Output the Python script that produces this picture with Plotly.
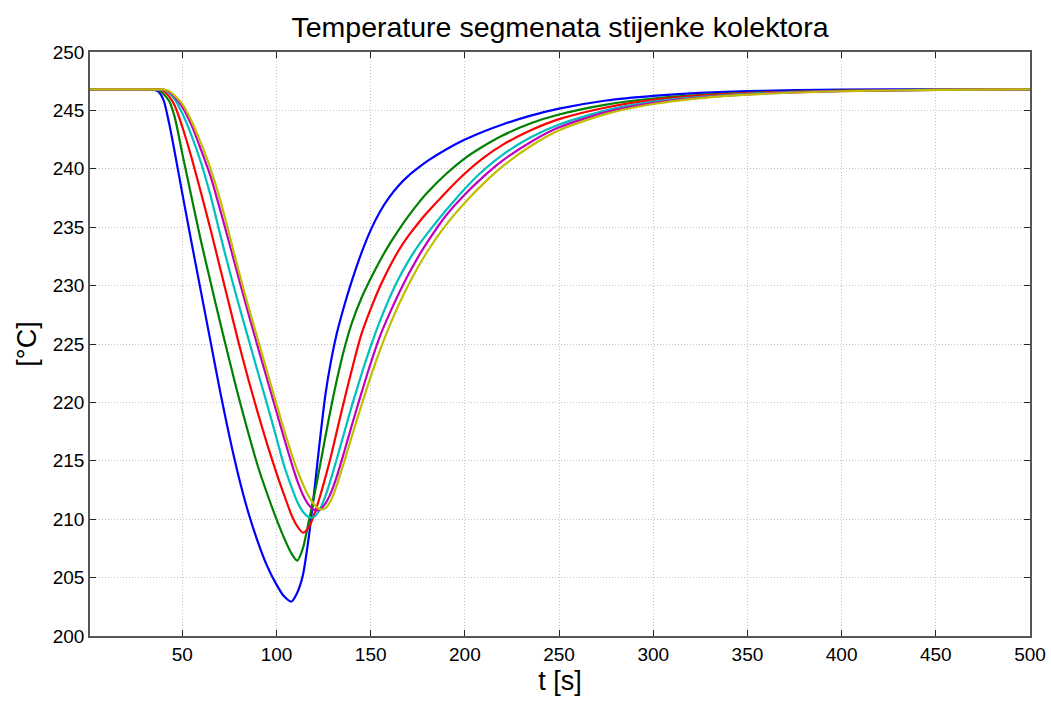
import plotly.graph_objects as go

# time grid [s]
t = [1, 30, 34, 37, 40, 43, 46, 50, 55, 60, 65, 70, 75, 80, 85, 90, 95, 100, 104, 108,
     111, 114, 117, 120, 123, 126, 129, 132, 136, 140, 145, 150, 155, 160, 165, 170, 175,
     180, 190, 200, 210, 220, 235, 250, 275, 300, 325, 350, 400, 450, 500]

seg1 = [246.8, 246.8, 246.8, 246.65, 245.9, 243.9, 241.4, 237.9, 233.6, 229.4, 225.2, 221.0,
        217.1, 213.6, 210.6, 208.1, 206.0, 204.4, 203.4, 202.95,
        203.7, 205.2, 208.3, 212.3, 216.7, 220.7, 223.6, 225.9, 228.3, 230.4, 232.75, 234.75,
        236.35, 237.6, 238.6, 239.4, 240.05,
        240.65, 241.65, 242.5, 243.2, 243.8, 244.55, 245.15, 245.85, 246.25, 246.5, 246.65,
        246.78, 246.8, 246.8]

seg2 = [246.8, 246.8, 246.8, 246.75, 246.4, 245.8, 244.4, 241.3, 237.5, 233.75, 230.3, 226.9,
        223.6, 220.4, 217.4, 214.6, 212.2, 210.0, 208.4, 207.05,
        206.45, 207.5, 209.7, 212.0, 214.5, 217.1, 219.6, 221.9, 224.6, 226.8, 228.9, 230.6,
        232.15, 233.55, 234.8, 235.95, 237.0,
        237.95, 239.55, 240.9, 241.95, 242.85, 243.9, 244.65, 245.5, 246.02, 246.33, 246.51,
        246.7, 246.77, 246.8]

seg3 = [246.8, 246.8, 246.8, 246.8, 246.65, 246.2, 245.4, 243.6, 240.9, 237.9, 234.8, 231.55,
        228.3, 225.05, 222.0, 219.15, 216.45, 213.95, 212.1, 210.35,
        209.4, 208.85, 209.25, 210.4, 211.9, 213.6, 215.45, 217.5, 220.2, 222.8, 225.8, 228.0,
        229.95, 231.6, 233.05, 234.25, 235.3,
        236.25, 238.0, 239.6, 240.95, 242.05, 243.3, 244.25, 245.25, 245.9, 246.26, 246.48,
        246.68, 246.76, 246.8]

seg4 = [246.8, 246.8, 246.8, 246.8, 246.75, 246.5, 245.95, 244.75, 242.8, 240.5, 237.7, 234.45,
        231.3, 228.35, 225.5, 222.65, 219.85, 216.95, 214.6, 212.75,
        211.5, 210.65, 210.2, 210.2, 210.85, 212.0, 213.5, 215.15, 217.45, 219.7, 222.35, 224.8,
        227.0, 228.95, 230.65, 232.1, 233.35,
        234.45, 236.45, 238.3, 239.9, 241.2, 242.7, 243.8, 245.0, 245.75, 246.15, 246.42,
        246.66, 246.75, 246.8]

seg5 = [246.8, 246.8, 246.8, 246.8, 246.78, 246.6, 246.15, 245.3, 243.7, 241.6, 239.35, 236.55,
        233.6, 230.6, 227.65, 224.8, 222.0, 219.2, 216.95, 214.8,
        213.3, 212.1, 211.25, 210.8, 210.8, 211.35, 212.3, 213.65, 215.8, 218.05, 220.75, 223.35,
        225.7, 227.6, 229.35, 230.95, 232.4,
        233.7, 236.0, 237.8, 239.35, 240.7, 242.3, 243.55, 244.85, 245.65, 246.1, 246.38,
        246.65, 246.75, 246.8]

seg6 = [246.8, 246.8, 246.8, 246.8, 246.8, 246.65, 246.25, 245.55, 244.05, 242.15, 240.0, 237.4,
        234.35, 231.2, 228.25, 225.45, 222.65, 219.85, 217.65, 215.6,
        214.2, 213.0, 212.0, 211.25, 210.85, 210.95, 211.65, 212.9, 214.95, 217.1, 219.7, 222.2,
        224.5, 226.55, 228.4, 230.05, 231.55,
        232.9, 235.2, 237.1, 238.75, 240.2, 241.95, 243.3, 244.7, 245.55, 246.05, 246.35,
        246.64, 246.75, 246.8]

series = [seg1, seg2, seg3, seg4, seg5, seg6]
colors = ["#0000ff", "#008000", "#ff0000", "#00bfbf", "#bf00bf", "#bfbf00"]

x_ticks = [50, 100, 150, 200, 250, 300, 350, 400, 450, 500]
y_ticks = [200, 205, 210, 215, 220, 225, 230, 235, 240, 245, 250]

title_text = "Temperature segmenata stijenke kolektora"
x_label = "t [s]"
y_label = "[°C]"

fig = go.Figure()
for s, c in zip(series, colors):
    fig.add_trace(go.Scatter(x=t, y=s, mode="lines",
                             line=dict(color=c, width=2.2, shape="spline", smoothing=0.7),
                             showlegend=False, hoverinfo="skip"))

font_family = "Liberation Sans, Arial, sans-serif"
axis_common = dict(ticks="inside", ticklen=6, tickcolor="#222", showline=True,
                   linecolor="#555", linewidth=1.5, mirror="ticks", showgrid=True,
                   gridcolor="#c4c4c4", griddash="1px,2px", gridwidth=1, zeroline=False,
                   automargin=False,
                   tickfont=dict(size=19, family=font_family, color="black"))

fig.update_layout(
    width=1051, height=702,
    paper_bgcolor="white", plot_bgcolor="white",
    margin=dict(l=90, r=21, t=52, b=66),
    title=dict(text=title_text, xref="paper", x=0.5, xanchor="center",
               yref="container", y=1 - 27 / 702, yanchor="middle",
               font=dict(family=font_family, size=28.5, color="black")),
    font=dict(family=font_family, color="black"),
    xaxis=dict(range=[1, 500], tickvals=x_ticks, **axis_common,
               title=dict(text=x_label, font=dict(size=27, family=font_family), standoff=8)),
    yaxis=dict(range=[200, 250], tickvals=y_ticks, **axis_common,
               title=dict(text=y_label, font=dict(size=27, family=font_family), standoff=8)),
)

fig.write_html("out.html",
               config={"displayModeBar": False},
               post_script="document.body.style.margin='0';document.body.style.overflow='hidden';")
